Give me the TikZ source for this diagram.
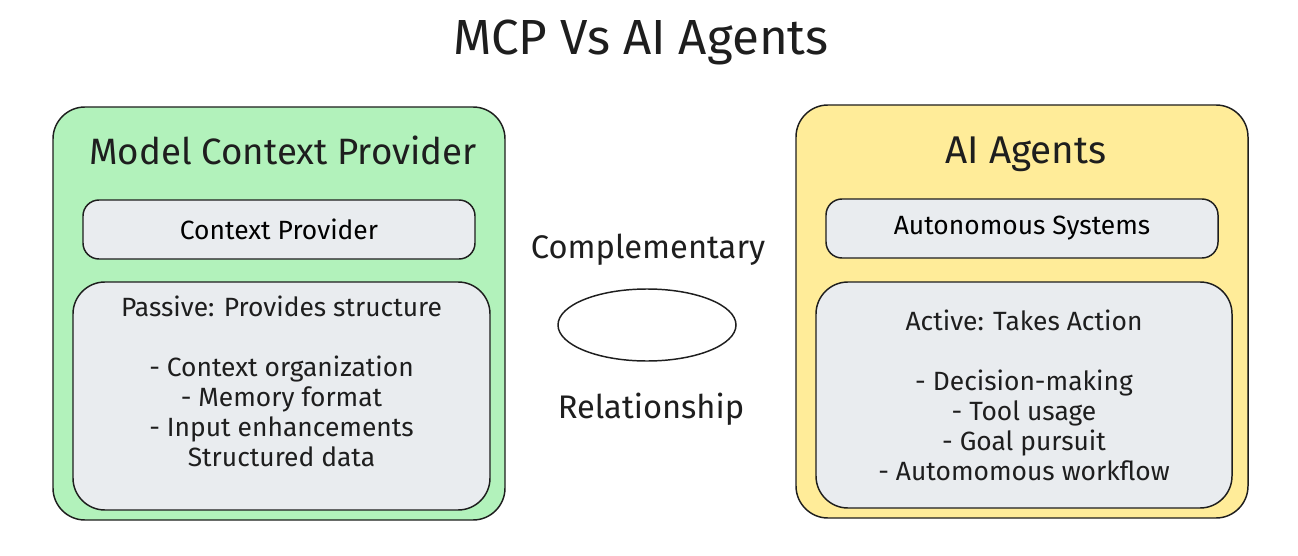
\documentclass[tikz,border=0pt]{standalone}
\usepackage{fontspec}
\setmainfont{Fira Sans}
\usetikzlibrary{shapes.geometric}

\definecolor{mcpgreen}{HTML}{B2F2BB}
\definecolor{agentyellow}{HTML}{FFEC99}
\definecolor{cardgrey}{HTML}{E9ECEF}
\definecolor{ink}{HTML}{1E1E1E}

\tikzset{
  panel/.style={draw=ink, line width=1.1pt, rounded corners=24pt, inner sep=0pt},
  card/.style={draw=ink, fill=cardgrey, line width=1.1pt, inner sep=0pt},
  bodytext/.style={text=ink, inner sep=0.75pt, align=center, font=\fontsize{19.8}{22.5}\selectfont},
  headtext/.style={text=ink, inner sep=0.75pt, font=\fontsize{27.5}{32}\selectfont},
}

\begin{document}
\begin{tikzpicture}[x=0.75pt,y=0.75pt,yscale=-1,xscale=1]
        \useasboundingbox (0,0) rectangle (1298,556);

        % Text Node
        \node (title) [headtext, anchor=base, font=\fontsize{37}{42}\selectfont] at (641,55) {MCP Vs AI Agents};

        %Shape: Rounded Rect [id:mcp]
        \node (mcp) [panel, fill=mcpgreen, minimum width=339pt, minimum height=309.75pt] at (279,313.5) {};
        % Text Node
        \node (mcptitle) [headtext, anchor=base] at (283,165) {Model Context Provider};
        %Shape: Rounded Rect [id:ctxprov]
        \node (ctxprov) [card, rounded corners=12pt, minimum width=294pt, minimum height=44.25pt, font=\fontsize{19.8}{22.5}\selectfont] at (279,229.5) {Context Provider};
        %Shape: Rounded Rect [id:passive]
        \node (passive) [card, rounded corners=24pt, minimum width=312.75pt, minimum height=171pt] at (281.5,396) {};
        % Text Node
        \node (passivetext) [bodytext] at (281.5,381) {Passive: Provides structure\\[22.5pt]
          - Context organization\\
          - Memory format\\
          - Input enhancements\\
          Structured data};

        %Shape: Rounded Rect [id:agents]
        \node (agents) [panel, fill=agentyellow, minimum width=339pt, minimum height=309.75pt] at (1022,311.5) {};
        % Text Node
        \node (agentstitle) [headtext, anchor=base, font=\fontsize{29}{34}\selectfont] at (1026,163) {AI Agents};
        %Shape: Rounded Rect [id:autosys]
        \node (autosys) [card, rounded corners=12pt, minimum width=294pt, minimum height=44.25pt, font=\fontsize{19.8}{22.5}\selectfont] at (1022,228.5) {Autonomous Systems};
        %Shape: Rounded Rect [id:active]
        \node (active) [card, rounded corners=24pt, minimum width=312pt, minimum height=169.5pt] at (1024,395) {};
        % Text Node
        \node (activetext) [bodytext] at (1024,395) {Active: Takes Action\\[22.5pt]
          - Decision-making\\
          - Tool usage\\
          - Goal pursuit\\
          - Automomous workflow};

        %Shape: Ellipse [id:relring]
        \node (relring) [ellipse, draw=ink, line width=1.1pt, fill=white, minimum width=133.5pt, minimum height=54pt, inner sep=0pt] at (647,325) {};
        % Text Node
        \node (complabel) [headtext, anchor=base, font=\fontsize{24.5}{28}\selectfont] at (648,258) {Complementary};
        % Text Node
        \node (rellabel) [headtext, anchor=base, font=\fontsize{24.5}{28}\selectfont] at (651,418) {Relationship};

\end{tikzpicture}
\end{document}
